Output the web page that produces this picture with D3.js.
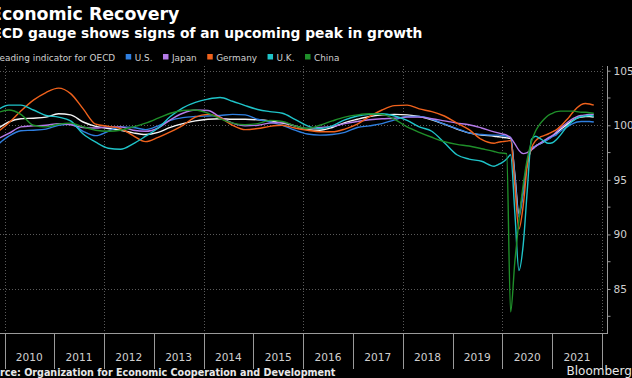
<!DOCTYPE html>
<html><head><meta charset="utf-8">
<script src="https://cdn.jsdelivr.net/npm/d3@7"></script>
<style>html,body{margin:0;padding:0;background:#000;overflow:hidden}</style>
</head><body><svg id="c" width="632" height="378"></svg>
<script>
const dates = [
 "2009-11","2010-02","2010-05","2010-08","2010-11","2011-02","2011-05","2011-08","2011-11",
 "2012-02","2012-05","2012-08","2012-11","2013-02","2013-05","2013-08","2013-11",
 "2014-02","2014-05","2014-08","2014-11","2015-02","2015-05","2015-08","2015-11",
 "2016-02","2016-05","2016-08","2016-11","2017-02","2017-05","2017-08","2017-11",
 "2018-02","2018-05","2018-08","2018-11","2019-02","2019-05","2019-08","2019-11",
 "2019-12","2020-01","2020-02","2020-03","2020-04","2020-05","2020-06","2020-07","2020-08",
 "2020-09","2020-10","2020-11","2020-12","2021-01","2021-02","2021-03","2021-04","2021-05",
 "2021-06","2021-07","2021-08","2021-09","2021-10","2021-11"];

const oecd = [99.6,100.3,100.6,100.65,100.75,101.05,100.95,100.3,99.9,99.7,99.55,99.3,99.15,99.35,99.8,100.15,100.4,100.55,100.6,100.55,100.55,100.5,100.4,100.2,99.95,99.6,99.55,99.8,100.25,100.55,100.8,100.95,101.0,100.95,100.8,100.5,100.1,99.65,99.3,99.1,99.0,
 98.95,98.9,98.85,98.8,95.5,91.9,94.0,96.5,97.8,98.1,98.3,98.5,98.75,99.0,99.3,99.6,99.9,100.2,100.45,100.65,100.75,100.8,100.8,100.75];
const us = [98.1,99.0,99.5,99.55,99.65,100.0,100.1,99.45,99.05,99.45,99.85,99.8,99.6,99.95,100.45,100.7,100.8,100.85,100.9,101.0,100.95,100.55,100.3,100.0,99.55,99.2,99.1,99.15,99.35,99.8,99.95,100.15,100.5,100.8,100.8,100.55,100.1,99.7,99.3,99.15,99.1,
 99.1,99.05,99.0,98.9,95.3,91.6,93.8,96.6,97.9,98.1,98.3,98.5,98.7,98.95,99.15,99.45,99.7,99.95,100.15,100.3,100.35,100.35,100.35,100.3];
const japan = [98.7,99.25,99.85,99.95,100.0,100.15,100.05,99.8,99.75,99.85,99.85,99.55,99.45,99.75,100.5,101.1,101.4,101.35,100.75,100.2,99.95,100.0,100.2,100.25,99.95,99.7,99.8,99.9,100.15,100.35,100.5,100.6,100.65,100.75,100.75,100.6,100.4,100.2,100.05,99.75,99.4,
 99.3,99.2,99.1,98.85,98.3,97.7,97.4,97.5,97.75,98.05,98.35,98.6,98.85,99.05,99.4,99.75,100.05,100.35,100.6,100.8,100.9,100.95,101.0,101.0];
const germany = [99.3,100.2,101.3,102.3,103.0,103.4,102.9,101.5,100.1,99.9,99.7,99.05,98.5,98.9,99.4,100.0,100.75,101.0,100.7,100.0,99.6,99.7,99.9,100.0,99.75,99.55,99.4,99.4,99.65,100.1,100.8,101.4,101.8,101.85,101.5,101.25,100.85,100.2,99.6,98.7,98.35,
 98.45,98.5,98.55,98.6,94.5,90.5,92.6,96.3,97.9,98.6,98.9,99.05,99.2,99.4,99.6,99.9,100.3,100.7,101.2,101.6,101.9,102.0,101.95,101.85];
const uk = [101.3,101.85,101.85,101.4,100.9,100.75,100.4,99.2,98.45,97.9,97.8,98.3,99.0,99.75,100.8,101.6,102.1,102.4,102.55,102.2,101.8,101.45,101.25,101.1,100.55,99.95,99.7,99.95,100.5,100.85,101.0,101.05,100.85,100.45,99.85,99.45,98.4,97.3,96.9,96.7,96.25,
 96.4,96.6,96.9,97.3,92.0,86.7,89.0,94.0,98.7,99.0,98.8,98.55,98.35,98.4,98.7,99.1,99.6,100.05,100.4,100.65,100.8,100.85,100.9,100.85];
const china = [101.1,101.4,101.0,100.0,99.85,100.1,100.2,99.85,99.55,99.45,99.55,99.85,100.2,100.65,101.1,101.35,101.4,101.1,100.6,100.2,100.05,100.15,100.45,100.35,99.95,99.7,100.0,100.4,100.75,100.95,101.05,101.0,100.55,99.85,99.35,98.9,98.5,98.25,98.1,97.85,97.6,
 97.5,97.45,97.4,82.9,87.5,91.3,94.5,96.9,98.5,99.5,100.1,100.55,100.9,101.1,101.25,101.3,101.3,101.3,101.3,101.25,101.2,101.2,101.15,101.1];

const seriesNames = ["Leading indicator for OECD","U.S.","Japan","Germany","U.K.","China"];
const seriesValues = [oecd, us, japan, germany, uk, china];
const seriesColors = ["#f4f4f4","#2f7fe0","#b47ae8","#f0621c","#1fc4c9","#1f8f2a"];
const yearLabels = ["2010","2011","2012","2013","2014","2015","2016","2017","2018","2019","2020","2021"];
const yMajorTicks = [85,90,95,100,105];
const yMinorTicks = [82.5,87.5,92.5,97.5,102.5];
const titleText = "Economic Recovery";
const subtitleText = "OECD gauge shows signs of an upcoming peak in growth";
const sourceText = "Source: Organization for Economic Cooperation and Development";

const svg = d3.select("#c");
svg.append("rect").attr("width",632).attr("height",378).attr("fill","#000");
const parse = d3.timeParse("%Y-%m");
const x = d3.scaleTime().domain([new Date(2010,0,1), new Date(2022,0,1)]).range([4.5, 602.1]);
const y = d3.scaleLinear().domain([85,105]).range([289,70.7]);
const plotBottom = 333, plotTop = 66, axisX = 607.5;

// gridlines
const grid = svg.append("g").attr("stroke","#5a5a5a").attr("stroke-width",1).attr("stroke-dasharray","1,2");
grid.selectAll("line.h").data(yMajorTicks).join("line")
  .attr("x1",0).attr("x2",603).attr("y1",d=>Math.round(y(d))+0.5).attr("y2",d=>Math.round(y(d))+0.5);
const gridYears = d3.range(2010, 2023, 2).map(v=>new Date(v,0,1));
grid.selectAll("line.v").data(gridYears).join("line")
  .attr("x1",d=>Math.round(x(d))+0.5).attr("x2",d=>Math.round(x(d))+0.5).attr("y1",plotTop).attr("y2",plotBottom);

// lines
const dts = dates.map(parse);
const line = d3.line().x((d,i)=>x(dts[i])).y(d=>y(d)).curve(d3.curveMonotoneX);
seriesValues.forEach((vals,k)=>{
  svg.append("path").datum(vals).attr("d",line).attr("fill","none")
    .attr("stroke",seriesColors[k]).attr("stroke-width",1.4).attr("stroke-linejoin","round");
});

// x axis
const xAxisG = svg.append("g").attr("transform",`translate(0,${plotBottom})`);
xAxisG.append("line").attr("x1",0).attr("x2",axisX).attr("y1",0.5).attr("y2",0.5).attr("stroke","#9a9a9a");
const yearTicks = d3.range(2010, 2023).map(v=>new Date(v,0,1));
xAxisG.selectAll("line.t").data(yearTicks).join("line")
  .attr("x1",d=>Math.round(x(d))+0.5).attr("x2",d=>Math.round(x(d))+0.5).attr("y1",0).attr("y2",36)
  .attr("stroke","#9a9a9a");
xAxisG.selectAll("text").data(yearLabels).join("text")
  .attr("x",d=>x(new Date(+d,6,1))).attr("y",28).attr("text-anchor","middle")
  .attr("font-family","DejaVu Sans").attr("font-size",10.6).attr("fill","#cfcfcf").text(d=>d);

// right y axis
const yAxis = d3.axisRight(y).tickValues(yMajorTicks).tickSize(3).tickPadding(3);
const yg = svg.append("g").attr("transform",`translate(${axisX},0)`).call(yAxis);
yg.select(".domain").remove();
yg.append("line").attr("x1",0).attr("x2",0).attr("y1",plotTop).attr("y2",plotBottom+1).attr("stroke","#9a9a9a");
yg.selectAll(".tick line").attr("stroke","#9a9a9a");
yg.selectAll(".tick text").attr("font-family","DejaVu Sans").attr("font-size",10.6).attr("fill","#cfcfcf");
yg.selectAll("line.minor").data(yMinorTicks).join("line")
  .attr("x1",0).attr("x2",3).attr("y1",d=>y(d)).attr("y2",d=>y(d)).attr("stroke","#9a9a9a");

// titles
svg.append("text").attr("x",-10).attr("y",20).attr("font-family","DejaVu Sans").attr("font-weight","bold")
  .attr("font-size",17.4).attr("fill","#fff").text(titleText);
svg.append("text").attr("x",-19.5).attr("y",37.7).attr("font-family","DejaVu Sans").attr("font-weight","bold")
  .attr("font-size",13.8).attr("fill","#fff").text(subtitleText);

// legend
const lg = svg.append("g");
const items = lg.selectAll("g").data(seriesNames).join("g");
items.append("rect").attr("width",5.5).attr("height",5.5).attr("y",54).attr("fill",(d,i)=>seriesColors[i]);
items.append("text").attr("y",60.5).attr("font-family","DejaVu Sans").attr("font-size",8.9).attr("fill","#d0d0d0").text(d=>d);
const widths = [];
items.select("text").each(function(){ widths.push(this.getComputedTextLength()); });
let cx = 125.7 - (5.5 + 3.5 + widths[0] + 10.5);
items.each(function(d,i){
  const g = d3.select(this);
  g.select("rect").attr("x",cx);
  g.select("text").attr("x",cx+9);
  cx += 9 + widths[i] + 10.5;
});

// footer
svg.append("text").attr("x",-20.3).attr("y",375.5).attr("font-family","DejaVu Sans").attr("font-weight","bold")
  .attr("font-size",9.6).attr("fill","#e8e8e8").text(sourceText);
svg.append("text").attr("x",566.5).attr("y",375).attr("font-family","DejaVu Sans")
  .attr("font-size",12).attr("fill","#e8e8e8").text("Bloomberg");
</script></body></html>
